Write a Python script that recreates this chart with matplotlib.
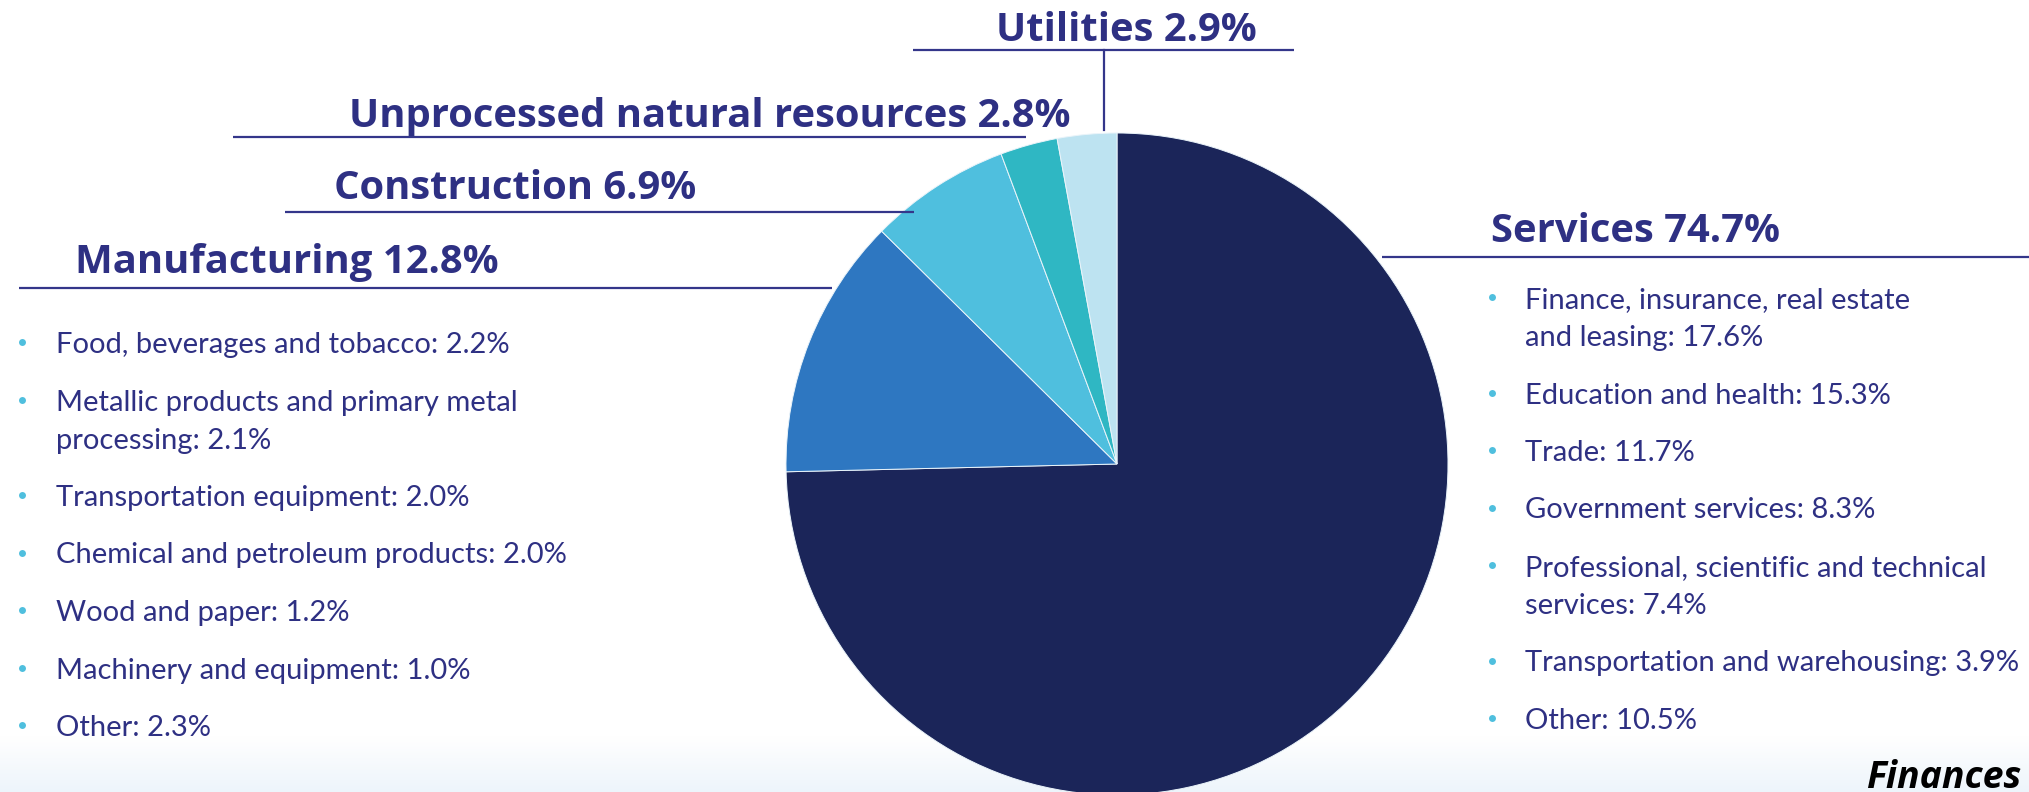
import matplotlib
matplotlib.use('Agg')
import matplotlib.pyplot as plt
import numpy as np

# ---------------- data ----------------
sectors = ['Services', 'Manufacturing', 'Construction',
           'Unprocessed natural resources', 'Utilities']
shares = [74.7, 12.8, 6.9, 2.8, 2.9]

mfg_labels = ['Food, beverages and tobacco',
              'Metallic products and primary metal\nprocessing',
              'Transportation equipment',
              'Chemical and petroleum products',
              'Wood and paper',
              'Machinery and equipment',
              'Other']
mfg_values = [2.2, 2.1, 2.0, 2.0, 1.2, 1.0, 2.3]

svc_labels = ['Finance, insurance, real estate\nand leasing',
              'Education and health',
              'Trade',
              'Government services',
              'Professional, scientific and technical\nservices',
              'Transportation and warehousing',
              'Other']
svc_values = [17.6, 15.3, 11.7, 8.3, 7.4, 3.9, 10.5]

# ---------------- style ----------------
colors = ['#1B2559', '#2E77C1', '#4FBFDE', '#2FB7C3', '#BDE3F1']
TXT = '#2E3083'
LINE = '#34368A'
BULLET = '#4FBFDE'
FONT = 'Lato'
HFONT = 'Open Sans'

W, H = 2029, 792
fig = plt.figure(figsize=(W / 100, H / 100), dpi=100)
ax = fig.add_axes([0, 0, 1, 1])


def Y(y):
    return H - y


# bottom background gradient
n = 60
c0 = np.array([1.0, 1.0, 1.0])
c1 = np.array([0.93, 0.96, 0.985])
t = np.linspace(0, 1, n)[:, None]
grad = (c0 * (1 - t) + c1 * t)[:, None, :]
ax.imshow(grad, extent=[0, W, 0, 56], aspect='auto', zorder=0, origin='upper')

# pie
ax.pie(shares, colors=colors, startangle=90, counterclock=False,
       center=(1117, Y(464)), radius=331, frame=False,
       wedgeprops=dict(linewidth=0.7, edgecolor='#EAF4FA'))
ax.set_xlim(0, W)
ax.set_ylim(0, H)
ax.set_aspect('auto')
ax.axis('off')

# headings: (text x, baseline y, line x0, line x1, line y)
head_pos = [(1491, 242, 1382, 2029, 257),
            (75, 273, 19, 832, 288),
            (334, 199, 285, 914, 212),
            (349, 127, 233, 1026, 137),
            (996, 41, 913, 1294, 50)]
for name, share, (tx, ty, lx0, lx1, ly) in zip(sectors, shares, head_pos):
    ax.text(tx, Y(ty), f'{name} {share:.1f}%', fontsize=28.8, fontweight='bold',
            family=HFONT, color=TXT, ha='left', va='baseline', zorder=5)
    ax.plot([lx0, lx1], [Y(ly), Y(ly)], color=LINE, lw=1.6, zorder=4,
            solid_capstyle='butt')
# vertical connector for Utilities
ax.plot([1104, 1104], [Y(50), Y(130)], color=LINE, lw=1.6, zorder=4)


def bullet_list(labels, values, bx, tx, y0):
    y = y0
    for lab, val in zip(labels, values):
        lines = lab.split('\n')
        lines[-1] = f'{lines[-1]}: {val:.1f}%'
        ax.plot([bx], [Y(y - 11)], 'o', ms=5, color=BULLET, mec='none', zorder=5)
        for i, ln in enumerate(lines):
            ax.text(tx, Y(y), ln, fontsize=21, family=FONT, color=TXT,
                    ha='left', va='baseline', zorder=5)
            if i < len(lines) - 1:
                y += 38
        y += 57.5


bullet_list(mfg_labels, mfg_values, 22, 56, 353)
bullet_list(svc_labels, svc_values, 1492, 1525, 308)

ax.text(1866, Y(788), 'Finances', fontsize=27, fontweight='bold', style='italic',
        family=HFONT, color='black', ha='left', va='baseline', zorder=5)

fig.savefig('out.png', dpi=100)
